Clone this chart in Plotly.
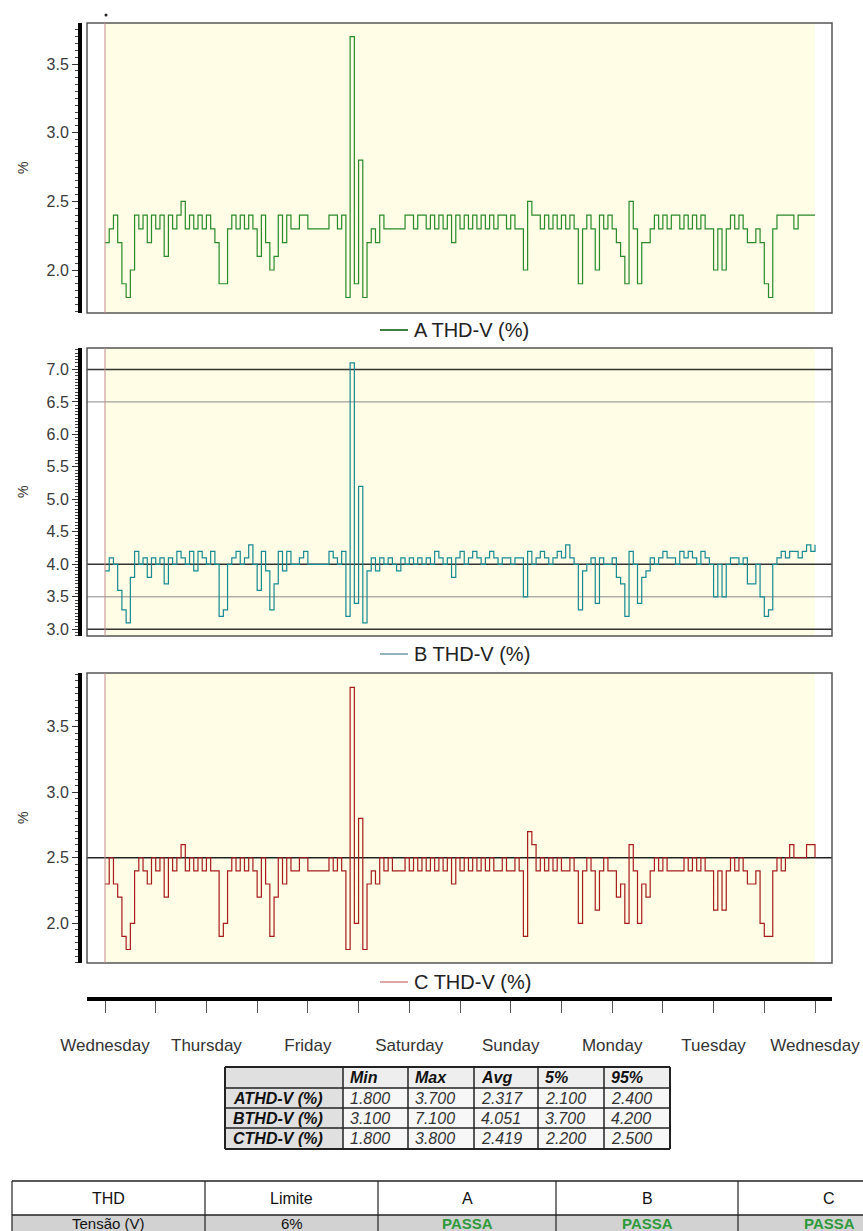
import plotly.graph_objects as go

# ---------------- data (hourly THD-V %, Wednesday 00:00 -> next Wednesday 00:00) ----------------
thd_a = [
    2.2, 2.3, 2.4, 2.2, 1.9, 1.8, 2.0, 2.4, 2.3, 2.4, 2.2, 2.4, 2.3, 2.4, 2.1, 2.4, 2.3, 2.4, 2.5, 2.3, 2.4, 2.3, 2.4, 2.3,
    2.4, 2.3, 2.2, 1.9, 1.9, 2.3, 2.4, 2.3, 2.4, 2.3, 2.4, 2.3, 2.1, 2.4, 2.2, 2.0, 2.1, 2.4, 2.2, 2.4, 2.3, 2.3, 2.4, 2.4,
    2.3, 2.3, 2.3, 2.3, 2.3, 2.4, 2.4, 2.3, 2.4, 1.8, 3.7, 1.9, 2.8, 1.8, 2.2, 2.3, 2.2, 2.4, 2.3, 2.3, 2.3, 2.3, 2.3, 2.4,
    2.4, 2.3, 2.4, 2.4, 2.3, 2.4, 2.3, 2.4, 2.3, 2.4, 2.2, 2.4, 2.3, 2.4, 2.3, 2.4, 2.3, 2.4, 2.3, 2.4, 2.3, 2.4, 2.4, 2.3,
    2.4, 2.3, 2.3, 2.0, 2.5, 2.4, 2.4, 2.3, 2.4, 2.3, 2.4, 2.3, 2.4, 2.3, 2.4, 2.3, 1.9, 2.3, 2.4, 2.3, 2.0, 2.4, 2.3, 2.4,
    2.3, 2.2, 2.1, 1.9, 2.5, 2.3, 1.9, 2.2, 2.2, 2.3, 2.4, 2.3, 2.4, 2.3, 2.4, 2.4, 2.3, 2.4, 2.3, 2.4, 2.3, 2.4, 2.3, 2.3,
    2.0, 2.3, 2.0, 2.3, 2.4, 2.3, 2.4, 2.3, 2.2, 2.2, 2.3, 2.2, 1.9, 1.8, 2.3, 2.4, 2.4, 2.4, 2.4, 2.3, 2.4, 2.4, 2.4, 2.4,
    2.4,
]
thd_b = [
    3.9, 4.1, 4.0, 3.6, 3.3, 3.1, 3.8, 4.2, 4.0, 4.1, 3.8, 4.1, 4.0, 4.1, 3.7, 4.1, 4.0, 4.2, 4.1, 4.0, 4.2, 3.9, 4.2, 4.1,
    4.0, 4.2, 4.0, 3.2, 3.3, 4.0, 4.1, 4.2, 4.0, 4.1, 4.3, 4.0, 3.6, 4.2, 3.9, 3.3, 3.7, 4.2, 3.9, 4.2, 4.0, 4.0, 4.1, 4.2,
    4.0, 4.0, 4.0, 4.0, 4.0, 4.2, 4.1, 4.0, 4.2, 3.2, 7.1, 3.4, 5.2, 3.1, 3.9, 4.1, 3.9, 4.1, 4.0, 4.1, 4.0, 3.9, 4.1, 4.0,
    4.1, 4.0, 4.1, 4.0, 4.1, 4.0, 4.2, 4.1, 4.0, 4.1, 3.8, 4.1, 4.2, 4.0, 4.1, 4.2, 4.1, 4.0, 4.1, 4.2, 4.1, 4.0, 4.1, 4.1,
    4.0, 4.1, 4.1, 3.5, 4.2, 4.0, 4.1, 4.2, 4.1, 4.0, 4.1, 4.2, 4.1, 4.3, 4.1, 4.0, 3.3, 3.9, 4.0, 4.1, 3.4, 4.1, 4.0, 4.0,
    4.1, 3.8, 3.7, 3.2, 4.2, 4.0, 3.4, 3.8, 3.9, 4.1, 4.0, 4.1, 4.2, 4.1, 4.1, 4.0, 4.2, 4.1, 4.2, 4.1, 4.0, 4.2, 4.1, 4.0,
    3.5, 4.0, 3.5, 4.0, 4.1, 4.1, 4.0, 4.1, 3.7, 3.7, 4.0, 3.5, 3.2, 3.3, 4.0, 4.1, 4.2, 4.1, 4.2, 4.2, 4.1, 4.2, 4.3, 4.2,
    4.3,
]
thd_c = [
    2.3, 2.5, 2.3, 2.2, 1.9, 1.8, 2.0, 2.4, 2.5, 2.4, 2.3, 2.5, 2.4, 2.5, 2.2, 2.5, 2.4, 2.5, 2.6, 2.4, 2.5, 2.4, 2.5, 2.4,
    2.5, 2.4, 2.4, 1.9, 2.0, 2.4, 2.5, 2.4, 2.5, 2.4, 2.5, 2.4, 2.2, 2.5, 2.3, 1.9, 2.2, 2.5, 2.3, 2.5, 2.4, 2.4, 2.5, 2.5,
    2.4, 2.4, 2.4, 2.4, 2.4, 2.5, 2.4, 2.5, 2.4, 1.8, 3.8, 2.0, 2.8, 1.8, 2.3, 2.4, 2.3, 2.5, 2.4, 2.5, 2.4, 2.4, 2.4, 2.5,
    2.4, 2.5, 2.4, 2.5, 2.4, 2.5, 2.4, 2.5, 2.4, 2.5, 2.3, 2.5, 2.4, 2.5, 2.4, 2.5, 2.4, 2.5, 2.4, 2.5, 2.4, 2.4, 2.5, 2.4,
    2.4, 2.5, 2.4, 1.9, 2.7, 2.6, 2.4, 2.5, 2.4, 2.5, 2.4, 2.5, 2.4, 2.4, 2.5, 2.4, 2.0, 2.4, 2.5, 2.4, 2.1, 2.4, 2.5, 2.4,
    2.4, 2.2, 2.3, 2.0, 2.6, 2.4, 2.0, 2.3, 2.2, 2.4, 2.5, 2.4, 2.5, 2.4, 2.4, 2.4, 2.4, 2.5, 2.4, 2.5, 2.4, 2.5, 2.4, 2.4,
    2.1, 2.4, 2.1, 2.4, 2.5, 2.4, 2.5, 2.4, 2.3, 2.3, 2.4, 2.0, 1.9, 1.9, 2.4, 2.5, 2.4, 2.5, 2.6, 2.5, 2.5, 2.5, 2.6, 2.6,
    2.5,
]
hours = list(range(len(thd_a)))

series_names = ["A THD-V (%)", "B THD-V (%)", "C THD-V (%)"]
day_names = ["Wednesday", "Thursday", "Friday", "Saturday", "Sunday", "Monday", "Tuesday", "Wednesday"]
tick_hours = list(range(0, 169, 12))

ref_lines_b = [7.0, 6.5, 4.0, 3.5, 3.0]
ref_lines_c = [2.5]

stats_rows = ["ATHD-V (%)", "BTHD-V (%)", "CTHD-V (%)"]
stats_cols = ["Min", "Max", "Avg", "5%", "95%"]
stats_min = [1.800, 3.100, 1.800]
stats_max = [3.700, 7.100, 3.800]
stats_avg = [2.317, 4.051, 2.419]
stats_p5 = [2.100, 3.700, 2.200]
stats_p95 = [2.400, 4.200, 2.500]

limit_header = ["THD", "Limite", "A", "B", "C"]
limit_row = ["Tensão (V)", "6%", "PASSA", "PASSA", "PASSA"]

# ---------------- layout helpers ----------------
W, H = 863, 1231
FONT = "Liberation Sans, Arial, sans-serif"


def fx(p):
    return p / W


def fy(p):
    return 1 - p / H


x_dom = [fx(87), fx(832)]
x_rng = [-4.26, 172.02]

panels = [
    dict(top=23, bot=313, rng=[1.687, 3.799], color="#2a8a2a", legend="#3f7f3f", ly=330),
    dict(top=348, bot=636, rng=[2.897, 7.33], color="#178a92", legend="#94b4ba", ly=654),
    dict(top=673, bot=963, rng=[1.697, 3.91], color="#a81c1c", legend="#dba6a6", ly=982),
]
data_series = [thd_a, thd_b, thd_c]

fig = go.Figure()
shapes = []
annotations = []
layout = {}


def text(s, x, y, size=15, color="#222", xanchor="center"):
    annotations.append(dict(text=s, xref="paper", yref="paper", x=fx(x), y=fy(y), xanchor=xanchor,
                            yanchor="middle", showarrow=False, font=dict(family=FONT, size=size, color=color)))


def hline(x0, x1, y, color="#222", width=1.5):
    shapes.append(dict(type="line", xref="paper", yref="paper", x0=fx(x0), x1=fx(x1), y0=fy(y), y1=fy(y),
                       line=dict(color=color, width=width)))


def vline(x, y0, y1, color="#222", width=1.5):
    shapes.append(dict(type="line", xref="paper", yref="paper", x0=fx(x), x1=fx(x), y0=fy(y0), y1=fy(y1),
                       line=dict(color=color, width=width)))


def box(x0, x1, y0, y1, fill):
    shapes.append(dict(type="rect", xref="paper", yref="paper", x0=fx(x0), x1=fx(x1), y0=fy(y1), y1=fy(y0),
                       fillcolor=fill, line=dict(width=0), layer="below"))


for i, (p, ys) in enumerate(zip(panels, data_series)):
    n = "" if i == 0 else str(i + 1)
    fig.add_trace(go.Scatter(
        x=hours, y=ys, mode="lines", line=dict(color=p["color"], width=1.2, shape="hv"),
        xaxis="x" + n, yaxis="y" + n, showlegend=False, hoverinfo="skip",
    ))
    xa = dict(domain=x_dom, range=x_rng, showgrid=False, zeroline=False, fixedrange=True, automargin=False)
    if i < 2:
        xa.update(anchor="y" + n, visible=False, matches="x3")
    else:
        xa.update(
            anchor="free", position=fy(999), showline=True, linewidth=4, linecolor="black",
            ticks="outside", ticklen=12, tickwidth=1, tickcolor="#555",
            tickmode="array", tickvals=tick_hours,
            ticktext=[day_names[h // 24] if h % 24 == 0 else "" for h in tick_hours],
            tickfont=dict(family=FONT, size=17, color="#333"), ticklabelstandoff=18,
        )
    layout["xaxis" + n] = xa
    layout["yaxis" + n] = dict(
        domain=[fy(p["bot"]), fy(p["top"])], range=p["rng"], anchor="free", position=fx(80),
        showline=True, linewidth=4, linecolor="black", showgrid=False, zeroline=False,
        ticks="outside", ticklen=6, tickwidth=1, tickcolor="#333",
        tickmode="linear", tick0=0, dtick=0.5, tickformat=".1f",
        tickfont=dict(family=FONT, size=16, color="#3a3a3a"),
        minor=dict(dtick=0.05, tick0=0, ticks="outside", ticklen=3, tickwidth=1, tickcolor="#444", showgrid=False),
        fixedrange=True, automargin=False,
    )
    # pale yellow data background
    shapes.append(dict(type="rect", xref="x" + n, yref=f"y{n} domain", x0=hours[0], x1=hours[-1], y0=0, y1=1,
                       fillcolor="#FFFDE6", line=dict(width=0), layer="below"))
    # frame
    shapes.append(dict(type="rect", xref=f"x{n} domain", yref=f"y{n} domain", x0=0, x1=1, y0=0, y1=1,
                       line=dict(color="#555", width=1.5), layer="above"))
    # start cursor
    shapes.append(dict(type="line", xref="x" + n, yref=f"y{n} domain", x0=hours[0], x1=hours[0], y0=0, y1=1,
                       line=dict(color="#c48a8a", width=1), layer="above"))
    # legend sample + text
    hline(380, 408, p["ly"], color=p["legend"], width=2)
    text(series_names[i], 412, p["ly"], size=20, color="#222", xanchor="left")
    text("%", 23, (p["top"] + p["bot"]) / 2, size=14, color="#333")
    annotations[-1]["textangle"] = -90

# reference lines
for v in ref_lines_b:
    dark = v in (7.0, 4.0, 3.0)
    shapes.append(dict(type="line", xref="x2 domain", yref="y2", x0=0, x1=1, y0=v, y1=v,
                       line=dict(color="#333" if dark else "#8a8a8a", width=1.5 if dark else 1), layer="below"))
for v in ref_lines_c:
    shapes.append(dict(type="line", xref="x3 domain", yref="y3", x0=0, x1=1, y0=v, y1=v,
                       line=dict(color="#222", width=1.5), layer="below"))

# small marker at top of cursor
shapes.append(dict(type="circle", xref="paper", yref="paper", x0=fx(104.5), x1=fx(107.5), y0=fy(16.5), y1=fy(13.5),
                   fillcolor="#222", line=dict(width=0)))

# ---------------- statistics table ----------------
s_cols = [225, 343, 408, 474, 538, 604, 670]
s_rows = [1067, 1088, 1108, 1128, 1149]
box(s_cols[0], s_cols[1], s_rows[0], s_rows[-1], "#e0e0e0")
box(s_cols[1], s_cols[-1], s_rows[0], s_rows[1], "#eeeeee")
box(s_cols[1], s_cols[-1], s_rows[1], s_rows[-1], "#f7f7f7")
for yy in s_rows:
    hline(s_cols[0], s_cols[-1], yy, width=2 if yy in (s_rows[0], s_rows[-1]) else 1.5)
for xx in s_cols:
    vline(xx, s_rows[0], s_rows[-1], width=2 if xx in (s_cols[0], s_cols[-1]) else 1.5)
for j, c in enumerate(stats_cols):
    text(f"<b><i>{c}</i></b>", s_cols[j + 1] + 5, (s_rows[0] + s_rows[1]) / 2, size=16, color="#111", xanchor="left")
stat_values = [stats_min, stats_max, stats_avg, stats_p5, stats_p95]
for r, name in enumerate(stats_rows):
    yc = (s_rows[r + 1] + s_rows[r + 2]) / 2
    text(f"<b><i>{name}</i></b>", s_cols[0] + 6, yc, size=16, color="#111", xanchor="left")
    for j, vals in enumerate(stat_values):
        text(f"<i>{vals[r]:.3f}</i>", s_cols[j + 1] + 5, yc, size=16, color="#333", xanchor="left")

# ---------------- limits table (drawn, partly cut by page edge) ----------------
col_edges = [12, 205, 378, 556, 738, 920]
row_top, row_mid, row_bot = 1181, 1215, 1245
box(col_edges[0], col_edges[-1], row_mid, row_bot, "#d2d2d2")
for yy in (row_top, row_mid):
    hline(col_edges[0], col_edges[-1], yy)
for xx in col_edges:
    vline(xx, row_top, row_bot, width=1.2)
for j in range(5):
    cx = (col_edges[j] + col_edges[j + 1]) / 2
    text(limit_header[j], cx, (row_top + row_mid) / 2, size=16, color="#111")
    passa = limit_row[j] == "PASSA"
    text(f"<b>{limit_row[j]}</b>" if passa else limit_row[j], cx, 1223, size=15,
         color="#2f9a3c" if passa else "#111")

fig.update_layout(
    width=W, height=H, autosize=False, margin=dict(l=0, r=0, t=0, b=0, autoexpand=False),
    paper_bgcolor="white", plot_bgcolor="white", showlegend=False,
    shapes=shapes, annotations=annotations, **layout,
)

fig.write_html("out.html")
